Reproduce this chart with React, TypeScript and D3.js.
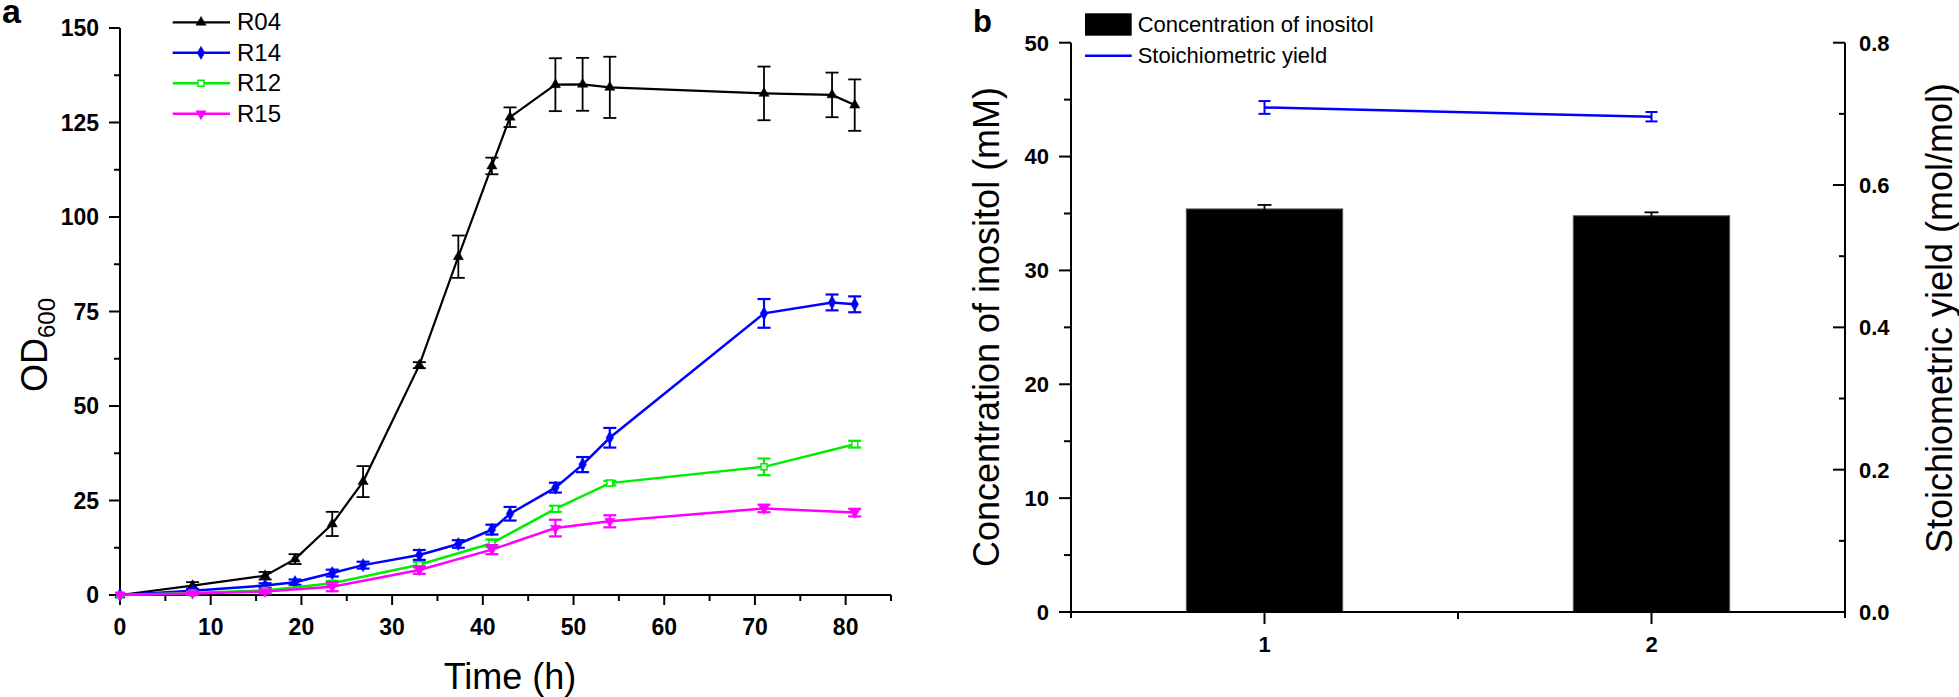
import React from "react";
import * as d3 from "d3";

// ---------- Panel a data ----------
const timesFull = [0, 8, 16, 19.3, 23.4, 26.8, 33, 37.3, 41, 43, 48, 51, 54, 71, 78.5, 81];
const timesShort = [0, 8, 16, 23.4, 33, 41, 48, 54, 71, 81];

const r04 = [0, 2.5, 5.1, 9.5, 18.8, 30, 60.8, 89.5, 113.5, 126.4, 135, 135.1, 134.3, 132.7, 132.3, 129.6];
const r04Err = [0, 0.9, 1, 1.3, 3.2, 4.1, 0.8, 5.6, 2.2, 2.6, 7, 7, 8.1, 7.1, 5.9, 6.8];

const r14 = [0, 1.1, 2.5, 3.4, 5.8, 7.9, 10.6, 13.5, 17.3, 21.5, 28.4, 34.5, 41.6, 74.5, 77.4, 76.9];
const r14Err = [0, 0.5, 0.6, 0.7, 0.9, 0.9, 1.3, 1.0, 1.3, 1.8, 1.3, 2.0, 2.6, 3.8, 2.1, 2.1];

const r12 = [0, 0.5, 1.2, 3.1, 8.0, 13.7, 22.8, 29.6, 33.9, 39.9];
const r12Err = [0, 0.3, 0.4, 0.6, 0.7, 1.0, 0.8, 0.6, 2.2, 0.9];

const r15 = [0, 0.4, 0.9, 2.2, 6.6, 12.0, 17.7, 19.5, 22.9, 21.8];
const r15Err = [0, 0.3, 0.5, 1.2, 1.0, 1.2, 2.2, 1.6, 1.0, 1.0];

const seriesNames = ["R04", "R14", "R12", "R15"];
const xTicksA = [0, 10, 20, 30, 40, 50, 60, 70, 80];
const yTicksA = [0, 25, 50, 75, 100, 125, 150];

// ---------- Panel b data ----------
const groups = [1, 2];
const inositol = [35.4, 34.8];
const inositolErr = [0.35, 0.3];
const yieldVals = [0.709, 0.696];
const yieldErr = [0.009, 0.0066];
const yTicksB = [0, 10, 20, 30, 40, 50];
const yTicksB2 = [0, 0.2, 0.4, 0.6, 0.8];
const legendB = ["Concentration of inositol", "Stoichiometric yield"];

const FONT = "'Liberation Sans', Arial, Helvetica, sans-serif";

type Series = {
  name: string;
  times: number[];
  vals: number[];
  errs: number[];
  color: string;
  symbol: d3.SymbolType;
  fill: string;
  size: number;
  width: number;
};

export default function App() {
  // Panel a scales
  const xA = d3.scaleLinear().domain([0, 85]).range([120, 891]);
  const yA = d3.scaleLinear().domain([0, 150]).range([595, 28]);

  const series: Series[] = [
    { name: seriesNames[0], times: timesFull, vals: r04, errs: r04Err, color: "#000000", symbol: d3.symbolTriangle, fill: "#000000", size: 45, width: 2.2 },
    { name: seriesNames[1], times: timesFull, vals: r14, errs: r14Err, color: "#0000ff", symbol: d3.symbolDiamond, fill: "#0000ff", size: 50, width: 2.5 },
    { name: seriesNames[2], times: timesShort, vals: r12, errs: r12Err, color: "#00ee00", symbol: d3.symbolSquare, fill: "#ffffff", size: 36, width: 2.5 },
    { name: seriesNames[3], times: timesShort, vals: r15, errs: r15Err, color: "#ff00ff", symbol: d3.symbolTriangle, fill: "#ff00ff", size: 45, width: 2.5 },
  ];

  const lineGen = (s: Series) =>
    d3
      .line<number>()
      .x((_, i) => xA(s.times[i]))
      .y((v) => yA(v))(s.vals) || "";

  const sym = (s: Series) => d3.symbol().type(s.symbol).size(s.size)() || "";

  const minorXA = d3.range(5, 86, 10);
  const minorYA = d3.range(12.5, 150, 25);

  // Panel b scales
  const xB = d3.scaleLinear().domain([0.5, 2.5]).range([1071, 1845]);
  const yB = d3.scaleLinear().domain([0, 50]).range([612, 42.7]);
  const yB2 = d3.scaleLinear().domain([0, 0.8]).range([612, 42.7]);
  const barW = xB(1.202) - xB(0.798);
  const minorYB = d3.range(5, 50, 10);
  const minorYB2 = [0.1, 0.3, 0.5, 0.7];

  const yieldLine =
    d3
      .line<number>()
      .x((_, i) => xB(groups[i]))
      .y((v) => yB2(v))(yieldVals) || "";

  return (
    <svg
      width={1959}
      height={697}
      style={{ position: "absolute", left: 0, top: 0, background: "#fff" }}
      fontFamily={FONT}
    >
      <rect x={0} y={0} width={1959} height={697} fill="#fff" />

      {/* ================= Panel a ================= */}
      <text x={2} y={23} fontSize={34} fontWeight="bold">a</text>

      {/* axes */}
      <line x1={xA(0)} x2={xA(0)} y1={yA(0)} y2={yA(150)} stroke="#000" strokeWidth={2} />
      <line x1={xA(0) - 1} x2={xA(85)} y1={yA(0)} y2={yA(0)} stroke="#000" strokeWidth={2} />
      {yTicksA.map((t) => (
        <g key={"ya" + t}>
          <line x1={xA(0) - 11} x2={xA(0)} y1={yA(t)} y2={yA(t)} stroke="#000" strokeWidth={2} />
          <text x={99} y={yA(t)} dy="0.36em" textAnchor="end" fontSize={23} fontWeight="bold">{t}</text>
        </g>
      ))}
      {minorYA.map((t) => (
        <line key={"yam" + t} x1={xA(0) - 6} x2={xA(0)} y1={yA(t)} y2={yA(t)} stroke="#000" strokeWidth={2} />
      ))}
      {xTicksA.map((t) => (
        <g key={"xa" + t}>
          <line x1={xA(t)} x2={xA(t)} y1={yA(0)} y2={yA(0) + 10} stroke="#000" strokeWidth={2} />
          <text x={xA(t)} y={635} textAnchor="middle" fontSize={23} fontWeight="bold">{t}</text>
        </g>
      ))}
      {minorXA.map((t) => (
        <line key={"xam" + t} x1={xA(t)} x2={xA(t)} y1={yA(0)} y2={yA(0) + 6} stroke="#000" strokeWidth={2} />
      ))}
      <text x={510} y={689} textAnchor="middle" fontSize={36}>Time (h)</text>
      <text transform="rotate(-90)" x={-345} y={47} textAnchor="middle" fontSize={36}>
        OD<tspan fontSize={24} dy={8}>600</tspan>
      </text>

      {/* series */}
      {series.map((s) => (
        <g key={s.name}>
          <path d={lineGen(s)} fill="none" stroke={s.color} strokeWidth={s.width} />
          {s.vals.map((v, i) =>
            s.errs[i] > 0 ? (
              <g key={i} stroke={s.color} strokeWidth={s.color === "#000000" ? 1.8 : 2.2}>
                <line x1={xA(s.times[i])} x2={xA(s.times[i])} y1={yA(v - s.errs[i])} y2={yA(v + s.errs[i])} />
                <line x1={xA(s.times[i]) - 6.5} x2={xA(s.times[i]) + 6.5} y1={yA(v - s.errs[i])} y2={yA(v - s.errs[i])} />
                <line x1={xA(s.times[i]) - 6.5} x2={xA(s.times[i]) + 6.5} y1={yA(v + s.errs[i])} y2={yA(v + s.errs[i])} />
              </g>
            ) : null
          )}
          {s.vals.map((v, i) => (
            <path
              key={"m" + i}
              d={sym(s)}
              transform={`translate(${xA(s.times[i])},${yA(v)})${s.name === "R15" ? " rotate(180)" : ""}`}
              fill={s.fill}
              stroke={s.color}
              strokeWidth={s.name === "R12" ? 1.5 : 0.5}
            />
          ))}
        </g>
      ))}

      {/* legend a */}
      {series.map((s, i) => {
        const ly = 22.3 + i * 30.5;
        return (
          <g key={"lg" + s.name}>
            <line x1={172.7} x2={230} y1={ly} y2={ly} stroke={s.color} strokeWidth={s.width} />
            <path
              d={sym(s)}
              transform={`translate(201,${ly})${s.name === "R15" ? " rotate(180)" : ""}`}
              fill={s.fill}
              stroke={s.color}
              strokeWidth={s.name === "R12" ? 1.5 : 0.5}
            />
            <text x={237} y={ly + 8} fontSize={24}>{s.name}</text>
          </g>
        );
      })}

      {/* ================= Panel b ================= */}
      <text x={973} y={31.7} fontSize={31} fontWeight="bold">b</text>

      {/* bars */}
      {groups.map((g, i) => (
        <g key={"bar" + g}>
          <rect
            x={xB(g) - barW / 2}
            y={yB(inositol[i])}
            width={barW}
            height={yB(0) - yB(inositol[i])}
            fill="#000"
            stroke="#555"
            strokeWidth={1}
          />
          <g stroke="#000" strokeWidth={1.8}>
            <line x1={xB(g)} x2={xB(g)} y1={yB(inositol[i] - inositolErr[i])} y2={yB(inositol[i] + inositolErr[i])} />
            <line x1={xB(g) - 7} x2={xB(g) + 7} y1={yB(inositol[i] + inositolErr[i])} y2={yB(inositol[i] + inositolErr[i])} />
          </g>
        </g>
      ))}

      {/* yield line */}
      <path d={yieldLine} fill="none" stroke="#0000ff" strokeWidth={2.5} />
      {groups.map((g, i) => (
        <g key={"ye" + g} stroke="#0000ff" strokeWidth={2}>
          <line x1={xB(g)} x2={xB(g)} y1={yB2(yieldVals[i] - yieldErr[i])} y2={yB2(yieldVals[i] + yieldErr[i])} />
          <line x1={xB(g) - 6} x2={xB(g) + 6} y1={yB2(yieldVals[i] - yieldErr[i])} y2={yB2(yieldVals[i] - yieldErr[i])} />
          <line x1={xB(g) - 6} x2={xB(g) + 6} y1={yB2(yieldVals[i] + yieldErr[i])} y2={yB2(yieldVals[i] + yieldErr[i])} />
        </g>
      ))}

      {/* axes b */}
      <line x1={xB(0.5)} x2={xB(0.5)} y1={yB(0) + 6} y2={yB(50)} stroke="#000" strokeWidth={2} />
      <line x1={xB(2.5)} x2={xB(2.5)} y1={yB(0) + 6} y2={yB2(0.8)} stroke="#000" strokeWidth={2} />
      <line x1={xB(0.5)} x2={xB(2.5)} y1={yB(0)} y2={yB(0)} stroke="#000" strokeWidth={2} />
      {yTicksB.map((t) => (
        <g key={"yb" + t}>
          <line x1={xB(0.5) - 12} x2={xB(0.5)} y1={yB(t)} y2={yB(t)} stroke="#000" strokeWidth={2} />
          <text x={1049} y={yB(t)} dy="0.36em" textAnchor="end" fontSize={22} fontWeight="bold">{t}</text>
        </g>
      ))}
      {minorYB.map((t) => (
        <line key={"ybm" + t} x1={xB(0.5) - 7} x2={xB(0.5)} y1={yB(t)} y2={yB(t)} stroke="#000" strokeWidth={2} />
      ))}
      {yTicksB2.map((t) => (
        <g key={"yb2" + t}>
          <line x1={xB(2.5) - 12} x2={xB(2.5)} y1={yB2(t)} y2={yB2(t)} stroke="#000" strokeWidth={2} />
          <text x={1859} y={yB2(t)} dy="0.36em" textAnchor="start" fontSize={22} fontWeight="bold">{t.toFixed(1)}</text>
        </g>
      ))}
      {minorYB2.map((t) => (
        <line key={"yb2m" + t} x1={xB(2.5) - 6} x2={xB(2.5)} y1={yB2(t)} y2={yB2(t)} stroke="#000" strokeWidth={2} />
      ))}
      {groups.map((g) => (
        <g key={"xb" + g}>
          <line x1={xB(g)} x2={xB(g)} y1={yB(0)} y2={yB(0) + 12} stroke="#000" strokeWidth={2} />
          <text x={xB(g)} y={652} textAnchor="middle" fontSize={22} fontWeight="bold">{g}</text>
        </g>
      ))}
      <line x1={xB(1.5)} x2={xB(1.5)} y1={yB(0)} y2={yB(0) + 7} stroke="#000" strokeWidth={2} />

      <text transform="rotate(-90)" x={-327} y={999} textAnchor="middle" fontSize={36}>
        Concentration of inositol (mM)
      </text>
      <text transform="rotate(-90)" x={-318} y={1952} textAnchor="middle" fontSize={36}>
        Stoichiometric yield (mol/mol)
      </text>

      {/* legend b */}
      <rect x={1085} y={13.3} width={46.7} height={22.4} fill="#000" />
      <text x={1137.7} y={31.7} fontSize={22}>{legendB[0]}</text>
      <line x1={1085} x2={1131.7} y1={55.7} y2={55.7} stroke="#0000ff" strokeWidth={2.5} />
      <text x={1137.7} y={62.7} fontSize={22}>{legendB[1]}</text>
    </svg>
  );
}
